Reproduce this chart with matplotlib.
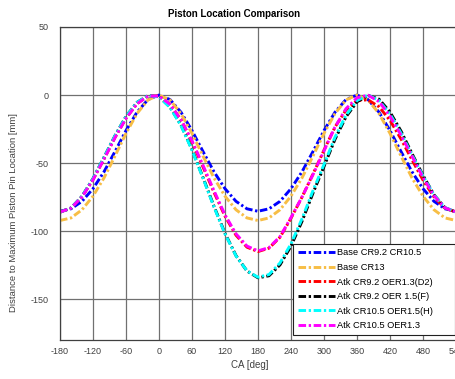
import matplotlib
matplotlib.use("Agg")
import matplotlib.pyplot as plt

plt.rcParams['font.family'] = ['Liberation Sans', 'DejaVu Sans']
plt.rcParams['axes.unicode_minus'] = False

# crank angle grid [deg]
ca = list(range(-180, 541, 20))

# piston pin distance below its maximum position [mm]
base_cr92_cr105 = [-85.4, -83.6, -78.1, -68.8, -56.4, -41.5, -26.1, -12.6, -3.3,
                   0.0, -3.3, -12.6, -26.1, -41.5, -56.4, -68.8, -78.1, -83.6,
                   -85.4, -83.6, -78.1, -68.8, -56.4, -41.5, -26.1, -12.6, -3.3,
                   0.0, -3.3, -12.6, -26.1, -41.5, -56.4, -68.8, -78.1, -83.6, -85.4]
base_cr13 = [-92.2, -90.3, -84.3, -74.3, -60.9, -44.8, -28.2, -13.6, -3.6,
             0.0, -3.6, -13.6, -28.2, -44.8, -60.9, -74.3, -84.3, -90.3,
             -92.2, -90.3, -84.3, -74.3, -60.9, -44.8, -28.2, -13.6, -3.6,
             0.0, -3.6, -13.6, -28.2, -44.8, -60.9, -74.3, -84.3, -90.3, -92.2]
atk_cr92_oer13_d2 = [-86.0, -83.1, -74.8, -62.2, -47.0, -31.2, -17.1, -6.4, -0.7,
                     -0.8, -6.8, -18.1, -34.5, -52.8, -71.5, -89.0, -103.0, -111.8,
                     -115.0, -112.5, -104.5, -90.5, -75.0, -58.0, -40.5, -23.5, -11.0,
                     -4.0, -3.5, -8.6, -18.6, -32.3, -47.6, -62.5, -74.9, -83.1, -86.0]
atk_cr92_oer15_f = [-86.0, -83.0, -74.4, -61.4, -45.8, -29.9, -15.7, -5.4, -0.4,
                    -1.2, -8.8, -22.0, -40.0, -60.6, -81.8, -101.6, -118.0, -129.3,
                    -134.3, -132.8, -124.8, -111.0, -92.8, -72.0, -52.5, -32.5, -16.0,
                    -5.0, -0.3, -3.0, -12.5, -26.5, -43.0, -59.0, -73.3, -82.8, -86.0]
atk_cr105_oer15_h = [-86.0, -83.0, -74.4, -61.4, -45.8, -29.9, -15.7, -5.4, -0.4,
                     -1.4, -9.1, -22.5, -40.5, -61.1, -82.3, -102.0, -118.2, -129.2,
                     -133.9, -131.9, -123.4, -109.3, -90.9, -70.2, -51.0, -31.0, -14.8,
                     -4.0, 0.0, -4.0, -14.0, -28.0, -44.0, -59.5, -73.5, -82.7, -86.0]
atk_cr105_oer13 = [-86.0, -83.1, -74.8, -62.2, -47.0, -31.2, -17.1, -6.4, -0.7,
                   -0.8, -6.8, -18.1, -33.6, -51.6, -70.3, -88.0, -102.0, -111.0,
                   -114.5, -112.1, -104.0, -90.0, -75.0, -58.5, -41.0, -23.5, -10.0,
                   -2.0, -0.1, -4.8, -15.5, -29.5, -45.0, -60.6, -74.0, -82.9, -86.0]

series_labels = ["Base CR9.2 CR10.5", "Base CR13", "Atk CR9.2 OER1.3(D2)",
                 "Atk CR9.2 OER 1.5(F)", "Atk CR10.5 OER1.5(H)", "Atk CR10.5 OER1.3"]
series_values = [base_cr92_cr105, base_cr13, atk_cr92_oer13_d2,
                 atk_cr92_oer15_f, atk_cr105_oer15_h, atk_cr105_oer13]
series_colors = ["#0000FF", "#F7BE45", "#FF0000", "#000000", "#00FFFF", "#FF00FF"]

x_ticks = [-180, -120, -60, 0, 60, 120, 180, 240, 300, 360, 420, 480, 540]
y_ticks = [-150, -100, -50, 0, 50]

fig = plt.figure(figsize=(4.56, 3.79), dpi=100)
ax = fig.add_axes([60 / 456, 39 / 379, 396 / 456, 313 / 379])

for vals, lab, col in zip(series_values, series_labels, series_colors):
    ax.plot(ca, vals, color=col, lw=2.1, linestyle=(0, (2.6, 0.9, 0.8, 0.9)),
            label=lab, solid_capstyle='butt', dash_capstyle='butt')

ax.set_xlim(-180, 540)
ax.set_ylim(-180, 50)
ax.set_xticks(x_ticks)
ax.set_yticks(y_ticks)
ax.tick_params(axis='x', length=0, labelsize=6.5, labelcolor='#404040', pad=5)
ax.tick_params(axis='y', length=0, labelsize=6.5, labelcolor='#404040', pad=8)
ax.grid(True, color='#707070', lw=0.9)
ax.set_axisbelow(True)
for s in ax.spines.values():
    s.set_color('#404040')
    s.set_linewidth(0.9)

ax.set_title("Piston Location Comparison", fontsize=7, fontweight='bold',
             x=0.44, pad=7)
ax.set_xlabel("CA [deg]", fontsize=7, color='#404040', labelpad=2)
ax.xaxis.set_label_coords(0.48, -0.065)
ax.set_ylabel("Distance to Maximum Piston Pin Location [mm]", fontsize=6.8,
              color='#404040')
ax.yaxis.set_label_coords(-0.106, 0.406)

leg = ax.legend(loc='lower left', bbox_to_anchor=(0.588, 0.016, 0.409, 0.297),
                mode='expand', borderaxespad=0, fontsize=6.7, handlelength=4.0,
                handletextpad=0.25, labelspacing=0.6, borderpad=0.5,
                fancybox=False, framealpha=1, edgecolor='#202020')
leg.get_frame().set_linewidth(0.8)

fig.savefig("out.png", dpi=100)
